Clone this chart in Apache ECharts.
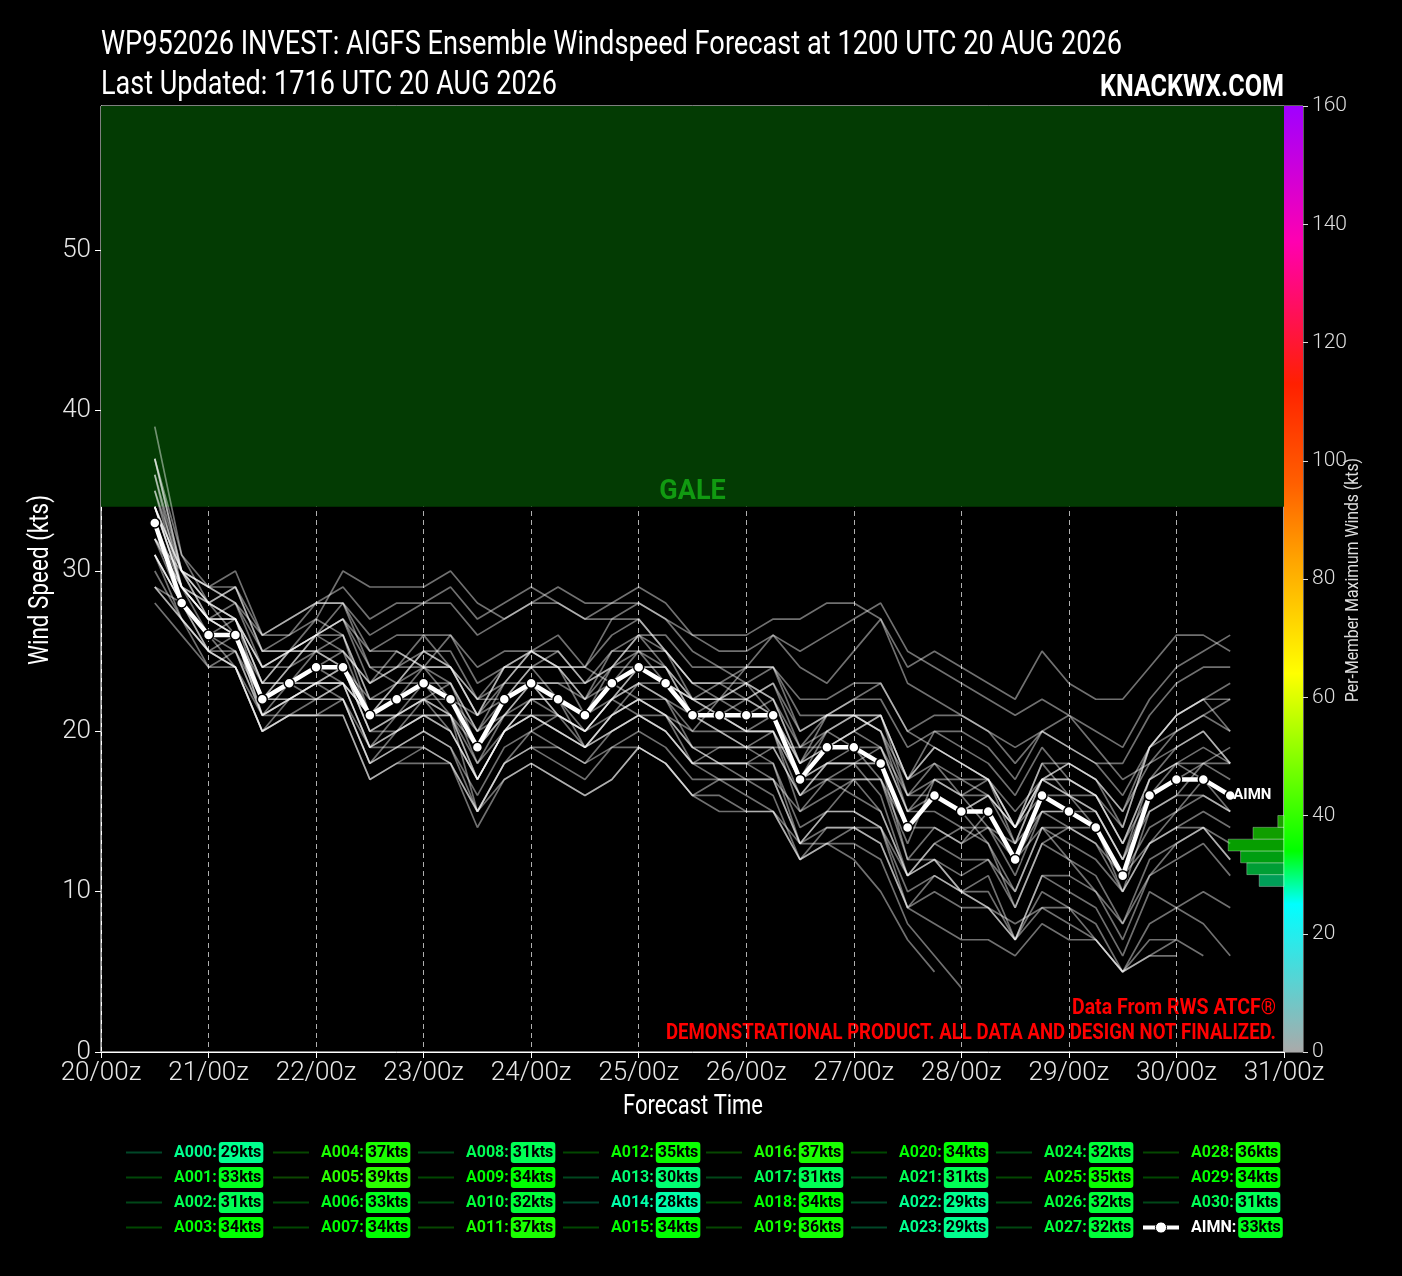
<!DOCTYPE html>
<html>
<head>
<meta charset="utf-8">
<script src="https://cdn.jsdelivr.net/npm/echarts@6/dist/echarts.min.js"></script>
<style>
html,body{margin:0;padding:0;background:#000;}
#chart{width:1402px;height:1276px;}
</style>
</head>
<body>
<div id="chart"></div>
<script>
// ---------------- DATA ----------------
const forecastHours = [12,18,24,30,36,42,48,54,60,66,72,78,84,90,96,102,108,114,120,126,132,138,144,150,156,162,168,174,180,186,192,198,204,210,216,222,228,234,240,246,252];
const dayLabels = ['20/00z','21/00z','22/00z','23/00z','24/00z','25/00z','26/00z','27/00z','28/00z','29/00z','30/00z','31/00z'];
const yTickValues = [0,10,20,30,40,50];
const cbTickValues = [0,20,40,60,80,100,120,140,160];
const galeRange = [34, 59];

const AIMN = [33,28, 26,26,22,23, 24,24,21,22, 23,22,19,22, 23,22,21,23, 24,23,21,21, 21,21,17,19, 19,18,14,16, 15,15,12,16, 15,14,11,16, 17,17,16];
const A000 = [29,27, 24,25,22,22, 22,23,21,21, 21,20,17,20, 22,22,19,21, 22,21,19,19, 19,20,17,17, 18,18,14,14, 13,14,12,14, 13,12,10,13, 15,16,15];
const A001 = [33,29, 27,28,24,24, 26,26,22,22, 24,24,21,22, 23,23,22,25, 26,24,21,21, 22,23,19,19, 20,21,16,16, 15,16,14,17, 17,16,13,16, 18,19,18];
const A002 = [31,28, 26,24,20,22, 23,22,18,20, 22,21,15,18, 20,21,20,22, 21,20,18,19, 19,18,13,15, 17,17,12,12, 11,12,10,14, 12,10,7,11, 13,14,12];
const A003 = [34,30, 28,29,25,26, 28,28,24,24, 26,26,24,25, 25,24,24,27, 27,25,23,23, 24,24,21,21, 21,20,17,20, 19,18,16,19, 17,16,14,19, 21,22,20];
const A004 = [37,30, 27,26,22,24, 26,27,25,25, 24,26,23,24, 25,26,24,23, 22,21,20,22, 24,26,24,23, 25,27,23,22, 21,20,18,20, 21,19,17,18, 19,20,18];
const A005 = [39,31, 28,26,23,25, 25,25,21,23, 23,22,21,24, 24,22,21,23, 25,25,23,23, 22,21,17,20, 21,20,15,16, 15,16,13,17, 16,15,12,16, 17,17,15];
const A006 = [33,28, 25,26,21,22, 23,24,20,20, 21,21,19,21, 21,21,20,21, 22,22,21,20, 19,19,16,18, 18,16,11,13, 14,13,9,13, 14,13,10,13, 14,15,14];
const A007 = [34,29, 28,27,23,25, 26,28,25,26, 26,24,21,23, 25,25,23,24, 26,26,24,24, 23,21,18,20, 21,21,17,19, 18,17,14,17, 16,15,12,17, 19,20,18];
const A008 = [31,28, 25,24,20,21, 22,22,18,19, 20,19,15,18, 19,18,17,19, 20,19,17,17, 17,17,13,15, 15,14,9,11, 10,10,7,11, 10,9,6,10, 9,8,6];
const A009 = [34,30, 29,29,26,27, 28,29,27,28, 28,29,27,28, 29,28,27,28, 29,28,26,25, 25,26,25,26, 27,28,25,24, 23,22,21,22, 21,20,19,22, 24,25,26];
const A010 = [32,30, 29,30,26,26, 27,30,29,29, 29,30,28,27, 28,29,28,28, 28,27,26,26, 26,27,27,28, 28,27,24,25, 24,23,22,25, 23,22,22,24, 26,26,25];
const A011 = [37,31, 29,28,26,27, 28,28,26,27, 28,28,26,27, 28,28,27,27, 28,27,25,24, 24,24,22,22, 23,23,20,21, 21,20,19,20, 19,18,18,21, 23,24,24];
const A012 = [35,29, 27,27,23,23, 23,24,22,22, 22,20,17,20, 22,22,21,22, 23,22,20,20, 20,20,16,18, 19,19,15,15, 14,14,13,15, 15,15,12,15, 16,18,17];
const A013 = [30,27, 25,25,21,22, 22,22,18,19, 20,19,16,19, 20,19,18,20, 21,20,18,17, 16,15,13,13, 12,10,7,5];
const A014 = [28,26, 24,24,20,21, 21,21,17,18, 18,18,14,17, 18,17,16,17, 19,18,16,15, 15,15,12,13, 14,13,9,10, 9,9,7,10, 9,8,5,8, 9,10,9];
const A015 = [34,30, 28,27,24,25, 26,25,23,25, 24,23,20,22, 24,25,23,24, 24,23,22,22, 22,21,18,19, 20,21,17,18, 16,16,14,18, 18,17,15,19, 20,21,22];
const A016 = [37,30, 27,26,21,22, 23,23,19,21, 22,21,17,20, 22,21,19,21, 23,22,19,18, 17,17,15,16, 17,15,11,12, 10,9,8,9, 9,7,5,6, 7,6];
const A017 = [31,27, 25,24,20,21, 21,21,17,18, 19,18,15,17, 18,17,16,17, 19,18,16,16, 15,15,12,13, 13,12,8,6, 4];
const A018 = [34,29, 27,26,22,24, 25,26,21,21, 22,23,20,21, 23,21,20,22, 24,24,22,21, 20,20,15,17, 17,17,14,16, 15,13,10,14, 14,14,11,13, 14,14,13];
const A019 = [36,29, 26,26,22,23, 24,24,20,21, 23,22,18,21, 23,22,20,22, 24,23,21,20, 19,19,19,21, 22,23,20,19, 18,17,15,17, 18,17,15,18, 20,21,20];
const A020 = [34,29, 27,27,24,25, 25,24,21,23, 25,24,22,22, 23,23,23,25, 25,23,22,23, 23,22,19,20, 19,17,13,17, 17,16,14,17, 17,16,13,17, 18,18,18];
const A021 = [31,28, 26,26,22,22, 23,23,19,20, 21,21,17,20, 21,20,19,21, 22,21,19,18, 18,18,14,15, 15,14,10,11, 10,9,7,9, 8,7,5,6, 6];
const A022 = [29,27, 25,24,21,21, 21,22,19,19, 19,18,15,18, 19,19,18,19, 19,18,16,17, 17,16,12,14, 14,14,11,12, 10,11,7,11, 11,10,8,11, 12,13,11];
const A023 = [29,28, 26,26,22,23, 23,23,19,20, 21,20,17,20, 21,20,19,20, 21,20,18,18, 18,17,13,14, 14,13,9,8, 7,7,6,8, 7,7,5,7, 7];
const A024 = [32,29, 28,27,22,23, 24,25,23,24, 24,22,19,22, 24,24,21,23, 24,24,21,21, 20,20,17,18, 18,18,12,14, 13,15,12,15, 14,13,11,14, 15,17,16];
const A025 = [35,30, 28,29,25,25, 27,26,22,23, 25,25,22,24, 24,24,24,26, 27,25,22,22, 23,24,20,21, 21,21,17,19, 18,17,13,17, 18,17,14,19, 21,22,23];
const A026 = [32,29, 27,27,24,25, 26,27,23,24, 25,24,21,24, 25,24,22,24, 26,25,23,22, 22,23,20,21, 22,22,19,20, 20,19,17,20, 19,18,16,19, 21,22,22];
const A027 = [32,28, 26,25,21,23, 25,24,20,21, 22,22,20,23, 23,21,20,22, 23,23,22,22, 21,22,18,19, 20,19,15,17, 16,14,11,15, 15,14,10,15, 16,16,15];
const A028 = [36,30, 29,28,25,25, 26,27,24,23, 24,24,22,23, 25,24,22,23, 24,23,21,22, 23,22,18,21, 21,20,16,18, 17,17,14,18, 16,14,11,16, 17,18,19];
const A029 = [34,29, 27,26,22,23, 24,23,21,22, 23,23,19,21, 22,22,21,24, 25,24,22,21, 20,21,17,18, 18,19,16,17, 16,17,14,16, 16,16,13,17, 18,17,16];
const A030 = [31,28, 26,27,23,23, 22,23,21,22, 23,21,18,20, 21,20,19,20, 21,21,18,18, 18,19,16,17, 16,15,11,13, 12,12,9,13, 12,11,8,12, 13,14,12];

const memberNames = ['A000','A001','A002','A003','A004','A005','A006','A007','A008','A009','A010','A011','A012','A013','A014','A015','A016','A017','A018','A019','A020','A021','A022','A023','A024','A025','A026','A027','A028','A029','A030'];
const memberValues = [A000,A001,A002,A003,A004,A005,A006,A007,A008,A009,A010,A011,A012,A013,A014,A015,A016,A017,A018,A019,A020,A021,A022,A023,A024,A025,A026,A027,A028,A029,A030];

// colour map stops (kts, colour)
const cmapStops = [[0,'#aaaaaa'],[25,'#00ffff'],[34,'#00ff00'],[64,'#ffff00'],[83,'#ffa500'],[96,'#ff6000'],[113,'#ff2000'],[137,'#ff00b0'],[160,'#a000ff']];
const histBinEdges = [28,30,32,34,36,38,40];

// ---------------- HELPERS ----------------
const FONT = "Roboto,'Noto Sans',sans-serif";
function hexRgb(h){ return [parseInt(h.substr(1,2),16),parseInt(h.substr(3,2),16),parseInt(h.substr(5,2),16)]; }
function cmap(v){
  for(let i=0;i<cmapStops.length-1;i++){
    const [v0,c0]=cmapStops[i],[v1,c1]=cmapStops[i+1];
    if(v>=v0 && v<=v1){
      const t=(v-v0)/(v1-v0), a=hexRgb(c0), b=hexRgb(c1);
      return [0,1,2].map(k=>Math.round(a[k]+(b[k]-a[k])*t));
    }
  }
  return hexRgb(cmapStops[cmapStops.length-1][1]);
}
const rgb = (c,a)=> a===undefined ? `rgb(${c[0]},${c[1]},${c[2]})` : `rgba(${c[0]},${c[1]},${c[2]},${a})`;
const mctx = document.createElement('canvas').getContext('2d');
function fitScale(text, font, targetW){ mctx.font = font; return targetW / mctx.measureText(text).width; }
function fitText(x, y, text, font, fill, targetW, align, rotation){
  return {type:'text', x:x, y:y, rotation:rotation||0, scaleX:fitScale(text,font,targetW), scaleY:1,
    style:{text:text, fill:fill, font:font, align:align||'left', verticalAlign:'middle'}};
}

const allNames = memberNames.concat(['AIMN']);
const allValues = memberValues.concat([AIMN]);
const maxes = allValues.map(a=>Math.max(...a.filter(v=>v!=null)));
const colors = maxes.map(m=>cmap(m));
const toPairs = arr => arr.map((v,i)=>[forecastHours[i], v]);

// histogram counts derived from per-member maxima
const histData = [];
for(let i=0;i<histBinEdges.length-1;i++){
  const lo=histBinEdges[i], hi=histBinEdges[i+1];
  histData.push([lo,hi,maxes.filter(m=>m>=lo && m<hi).length]);
}

// ---------------- SERIES ----------------
const series = [];
series.push({
  name:'gale', type:'line', data:[], z:0, silent:true, symbol:'none',
  markArea:{
    silent:true,
    itemStyle:{color:'#033b03', opacity:1},
    label:{show:true, position:'insideBottom', formatter:'GALE', color:'#119a11', fontSize:27, fontWeight:'bold', fontFamily:FONT, distance:1},
    data:[[{yAxis:galeRange[0]},{yAxis:galeRange[1]}]]
  }
});
memberNames.forEach((nm,i)=>{
  series.push({
    name:nm, type:'line', data:toPairs(memberValues[i]), xAxisIndex:0, yAxisIndex:0,
    symbol:'none', showSymbol:false, silent:true, z:2,
    color: rgb(colors[i],0.28),
    lineStyle:{color:'rgba(255,255,255,0.44)', width:1.7}
  });
});
series.push({
  name:'AIMN', type:'line', data:toPairs(AIMN), xAxisIndex:0, yAxisIndex:0, z:4,
  symbol:'circle', symbolSize:10, showSymbol:true, color:'#ffffff',
  lineStyle:{color:'#ffffff', width:4.5},
  itemStyle:{color:'#ffffff', borderColor:'#000', borderWidth:1.5},
  endLabel:{show:true, formatter:'AIMN', color:'#fff', fontWeight:'bold', fontSize:15, fontFamily:FONT, distance:3}
});
series.push({
  name:'cbar', type:'bar', xAxisIndex:1, yAxisIndex:1, data:[cbTickValues[cbTickValues.length-1]], barWidth:'100%', silent:true,
  itemStyle:{color:{type:'linear',x:0,y:1,x2:0,y2:0,colorStops:cmapStops.map(s=>({offset:s[0]/160,color:s[1]}))}}
});
series.push({
  name:'hist', type:'custom', xAxisIndex:2, yAxisIndex:2, data:histData, silent:true, z:5,
  renderItem:(params,api)=>{
    const lo=api.value(0), hi=api.value(1), n=api.value(2);
    const pA=api.coord([0,lo]), pB=api.coord([n,hi]);
    const c=cmap((lo+hi)/2);
    return {type:'rect', shape:{x:Math.min(pA[0],pB[0]), y:pB[1], width:Math.abs(pA[0]-pB[0]), height:pA[1]-pB[1]},
      style:{fill:rgb(c,0.62), stroke:'rgba(255,255,255,0.3)', lineWidth:1}};
  }
});

// ---------------- LEGEND ----------------
const rich = {};
allNames.forEach((nm,i)=>{
  const c = nm==='AIMN' ? '#ffffff' : rgb(colors[i]);
  rich['n'+i] = {color:c, fontFamily:FONT, fontWeight:'bold', fontSize:16, padding:[0,2,0,7]};
  rich['b'+i] = {color:'#000', backgroundColor:rgb(colors[i]), fontFamily:FONT, fontWeight:'bold', fontSize:16, borderRadius:3, padding:[3,2,2,2]};
});
const legendCols = [121,268,413,558,701,846,991,1136];
const lineIcon = 'path://M0,0L36,0L36,2L0,2Z';
const legends = legendCols.map((lx,c)=>({
  orient:'vertical', left:lx, top:1137, itemGap:4, itemWidth:36, itemHeight:14, selectedMode:false,
  data: allNames.slice(c*4, c*4+4).map(nm=>{
    const i = allNames.indexOf(nm);
    if(nm==='AIMN') return {name:nm, lineStyle:{color:'#fff', width:4}, itemStyle:{color:'#fff', borderColor:'#000', borderWidth:1}};
    return {name:nm, icon:lineIcon, itemStyle:{color:rgb(colors[i],0.28)}};
  }),
  formatter: nm=>{ const i=allNames.indexOf(nm); return `{n${i}|${nm}:}{b${i}|${maxes[i]}kts}`; },
  textStyle:{rich:rich, fontFamily:FONT}
}));

// ---------------- OPTION ----------------
const axisLabelFont = {color:'#e8e8e8', fontSize:26, fontFamily:FONT, fontWeight:300};
const option = {
  backgroundColor:'#000',
  animation:false,
  grid:[
    {left:101, top:106, width:1183, height:946, show:true, borderColor:'#fff', borderWidth:1, backgroundColor:'transparent'},
    {left:1284, top:106, width:19, height:946, show:true, borderColor:'#bbb', borderWidth:1},
    {left:1098, top:106, width:186, height:946}
  ],
  xAxis:[
    {type:'value', gridIndex:0, min:0, max:264, interval:24, z:1,
     axisLine:{show:true, lineStyle:{color:'#fff', width:1}},
     axisTick:{show:true, length:6, lineStyle:{color:'#fff'}},
     axisLabel:Object.assign({formatter:v=>dayLabels[Math.round(v/24)], margin:8}, axisLabelFont),
     splitLine:{show:true, lineStyle:{color:'#b0b0b0', type:[5,4], width:1}}},
    {type:'category', gridIndex:1, data:['cb'], show:false},
    {type:'value', gridIndex:2, min:0, max:30, inverse:true, show:false}
  ],
  yAxis:[
    {type:'value', gridIndex:0, min:0, max:59, interval:10,
     axisLine:{show:true, lineStyle:{color:'#fff', width:1}},
     axisTick:{show:true, length:6, lineStyle:{color:'#fff'}, customValues:yTickValues},
     axisLabel:Object.assign({margin:10, customValues:yTickValues}, axisLabelFont),
     splitLine:{show:false}},
    {type:'value', gridIndex:1, min:0, max:160, interval:20, position:'right',
     axisLine:{show:false},
     axisTick:{show:true, length:5, lineStyle:{color:'#ddd'}},
     axisLabel:{color:'#ddd', fontSize:21, fontFamily:FONT, fontWeight:300, margin:9},
     splitLine:{show:false}},
    {type:'value', gridIndex:2, min:0, max:160, show:false}
  ],
  legend: legends,
  series: series,
  graphic:[
    fitText(101, 45, 'WP952026 INVEST: AIGFS Ensemble Windspeed Forecast at 1200 UTC 20 AUG 2026', '34px '+FONT, '#fff', 1021, 'left'),
    fitText(101, 85, 'Last Updated: 1716 UTC 20 AUG 2026', '34px '+FONT, '#fff', 456, 'left'),
    fitText(1284, 88, 'KNACKWX.COM', 'bold 32px '+FONT, '#fff', 184, 'right'),
    fitText(1276, 1008, 'Data From RWS ATCF®', 'bold 22px '+FONT, '#ff0000', 204, 'right'),
    fitText(1276, 1033, 'DEMONSTRATIONAL PRODUCT. ALL DATA AND DESIGN NOT FINALIZED.', 'bold 22px '+FONT, '#ff0000', 610, 'right'),
    fitText(693, 1107, 'Forecast Time', '28px '+FONT, '#fff', 140, 'center'),
    fitText(41, 580, 'Wind Speed (kts)', '28px '+FONT, '#fff', 170, 'center', Math.PI/2),
    fitText(1353, 580, 'Per-Member Maximum Winds (kts)', '19px '+FONT, '#ddd', 244, 'center', Math.PI/2)
  ]
};
const chart = echarts.init(document.getElementById('chart'));
chart.setOption(option);
</script>
</body>
</html>
